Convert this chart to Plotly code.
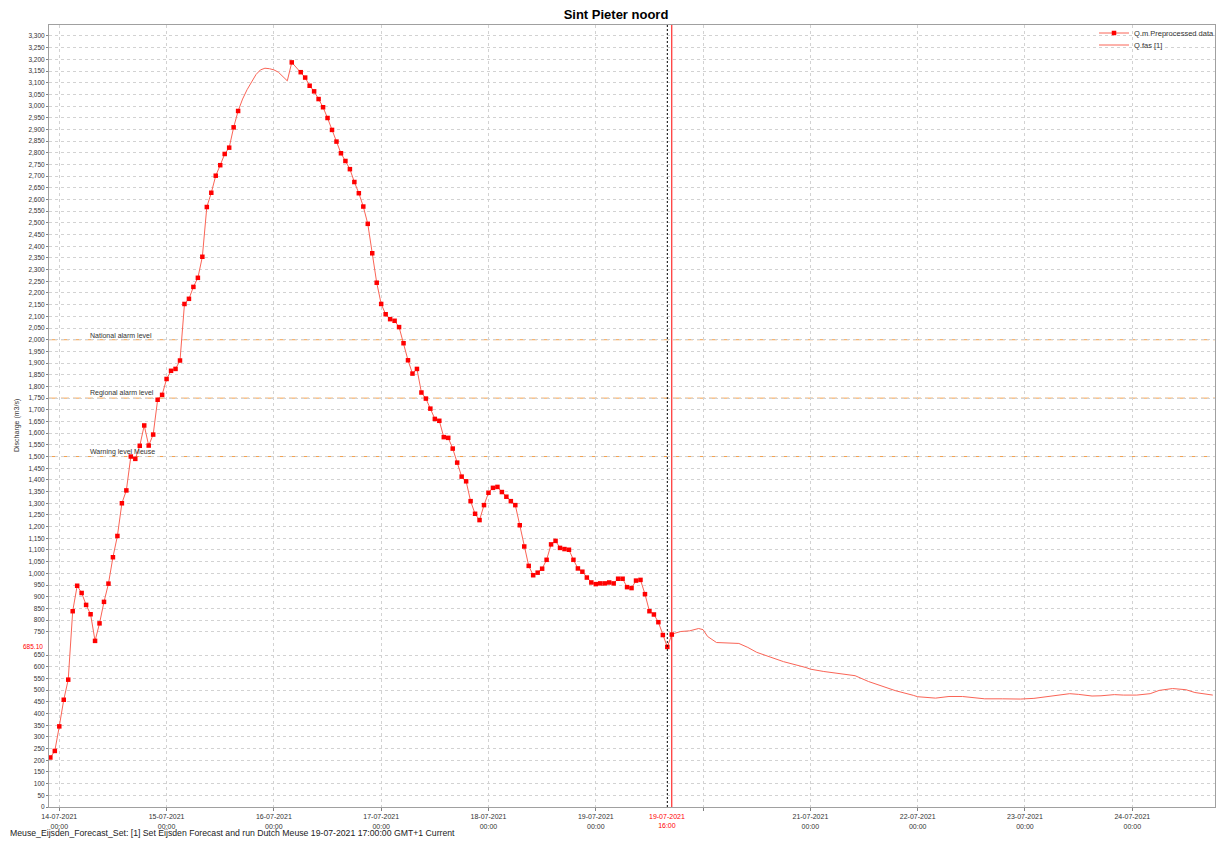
import plotly.graph_objects as go
import pandas as pd

# ---------------- data ----------------
# observed (Q.m Preprocessed data), hourly from 13-07-2021 22:00
obs_rise_start = "2021-07-13 22:00"
obs_rise = [212, 240, 345, 459, 545, 838, 947, 916, 865, 825, 711, 786, 878, 956,
            1069, 1160, 1300, 1355, 1500, 1490, 1546, 1633, 1547, 1594, 1743, 1764,
            1832, 1867, 1875, 1911, 2153, 2175, 2226, 2265, 2355, 2568, 2629, 2702,
            2747, 2795, 2822, 2909, 2979]
obs_peak_time = "2021-07-16 04:00"
obs_peak = 3187
# hourly from 16-07-2021 06:00
obs_fall_start = "2021-07-16 06:00"
obs_fall = [3145, 3122, 3087, 3063, 3030, 2995, 2949, 2898, 2848, 2798, 2765, 2730,
            2675, 2627, 2570, 2496, 2370, 2244, 2153, 2109, 2088, 2081, 2054, 1985,
            1912, 1855, 1875, 1774, 1748, 1705, 1661, 1653, 1583, 1580, 1534, 1474,
            1414, 1394, 1309, 1255, 1228, 1292, 1345, 1366, 1370, 1348, 1328, 1309,
            1292, 1206, 1115, 1032, 992, 1003, 1020, 1058, 1124, 1139, 1109, 1104,
            1101, 1058, 1021, 1007, 982, 961, 954, 957, 957, 961, 957, 977, 977, 941,
            937, 969, 972, 911, 838, 824, 791, 736, 685.10, 738]

# Q.fas [1]: segment where observations are missing (hourly from 15-07-2021 16:00)
fas_gap_start = "2021-07-15 16:00"
fas_gap = [2979, 3030, 3070, 3105, 3135, 3155, 3162, 3160, 3155, 3145, 3128, 3108, 3187]
# Q.fas [1] forecast, hour offsets from 19-07-2021 17:00
fas_fc_start = "2021-07-19 17:00"
fas_fc_hours = [0, 2, 4, 6, 7, 8, 10, 12, 15, 17, 19, 22, 25, 30, 31, 34, 36, 39, 41,
                44, 47, 50, 54, 55, 59, 62, 65, 67, 70, 74, 78, 81, 84, 87, 89, 91, 94,
                96, 99, 101, 104, 107, 109, 112, 115, 117, 121]
fas_fc = [740, 751, 754, 764, 759, 730, 704, 702, 700, 683, 662, 642, 622, 597, 590,
          580, 575, 570, 562, 537, 519, 498, 478, 472, 466, 473, 473, 469, 463, 463,
          462, 465, 473, 482, 485, 482, 475, 476, 481, 479, 479, 485, 499, 507, 502,
          490, 479]

levels = [2000, 1750, 1500]
level_names = ["National alarm level", "Regional alarm level", "Warning level Meuse"]

t0_time = "2021-07-19 16:00"
t0_value = 685.10
forecast_time = "2021-07-19 17:00"

x_days = ["14-07-2021", "15-07-2021", "16-07-2021", "17-07-2021", "18-07-2021",
          "19-07-2021", "20-07-2021", "21-07-2021", "22-07-2021", "23-07-2021",
          "24-07-2021"]
x_hidden = ["20-07-2021"]
y_ticks = [v for v in range(0, 3301, 50) if v != 700]

footer = ("Meuse_Eijsden_Forecast_Set: [1] Set Eijsden Forecast and run Dutch Meuse "
          "19-07-2021 17:00:00 GMT+1 Current")

# ---------------- build ----------------
def hourly(start, n):
    return list(pd.date_range(start, periods=n, freq="h"))

obs_x = hourly(obs_rise_start, len(obs_rise)) + [None] + [pd.Timestamp(obs_peak_time)] \
    + hourly(obs_fall_start, len(obs_fall))
obs_y = obs_rise + [None] + [obs_peak] + obs_fall

fc0 = pd.Timestamp(fas_fc_start)
fas_x = hourly(fas_gap_start, len(fas_gap)) + [None] + \
    [fc0 + pd.Timedelta(hours=h) for h in fas_fc_hours]
fas_y = fas_gap + [None] + fas_fc

FONT = "Liberation Sans"
TXT = "#333333"
LINE_RED = "#fa6456"

# page body has an 8px margin: figure is placed at (8, 8)
W, H = 1216, 836
PL, PR, PT, PB = 49, 1215, 25, 807          # plot area in page pixels
def px_x(p):
    return (p - PL) / (PR - PL)
def px_y(p):
    return (PB - p) / (PB - PT)

fig = go.Figure()
fig.add_trace(go.Scatter(
    x=fas_x, y=fas_y, mode="lines", name="Q.fas [1]", legend="legend2",
    line=dict(color=LINE_RED, width=1)))
fig.add_trace(go.Scatter(
    x=obs_x, y=obs_y, mode="lines+markers", name="Q.m Preprocessed data",
    legend="legend",
    line=dict(color=LINE_RED, width=1),
    marker=dict(symbol="square", size=4.5, color="#ff0000", line=dict(width=0))))

tick_dates = [pd.to_datetime(d, format="%d-%m-%Y") for d in x_days]
tick_text = ["" if d in x_hidden else f"{d}<br>00:00" for d in x_days]

fig.update_xaxes(
    type="date", range=["2021-07-13 21:42", "2021-07-24 18:30"],
    tickmode="array", tickvals=tick_dates, ticktext=tick_text,
    tickfont=dict(family=FONT, size=7, color=TXT),
    showgrid=True, gridcolor="#d2d2d2", griddash="dot", gridwidth=1,
    showline=True, linecolor="#a0a0a0", linewidth=1, mirror=True,
    ticks="outside", ticklen=3, tickcolor="#808080", zeroline=False,
    automargin=False)
fig.update_yaxes(
    range=[0, 3347], tickmode="array", tickvals=y_ticks,
    ticktext=[f"{v:,}" for v in y_ticks],
    tickfont=dict(family=FONT, size=6.5, color=TXT),
    showgrid=True, gridcolor="#d2d2d2", griddash="dot", gridwidth=1,
    showline=True, linecolor="#a0a0a0", linewidth=1, mirror=True,
    ticks="outside", ticklen=2, tickcolor="#808080", zeroline=False,
    automargin=False)

shapes = []
for lv in levels:
    shapes.append(dict(type="line", xref="paper", x0=0, x1=1, yref="y", y0=lv, y1=lv,
                       line=dict(color="#f4a04c", width=1, dash="8px,4px"), layer="between"))
shapes.append(dict(type="line", xref="x", x0=t0_time, x1=t0_time, yref="paper", y0=0, y1=1,
                   line=dict(color="#000000", width=1, dash="2px,2px"), layer="above"))
shapes.append(dict(type="line", xref="x", x0=forecast_time, x1=forecast_time, yref="paper",
                   y0=0, y1=1, line=dict(color="#ff0000", width=1), layer="above"))

annotations = []
for lv, nm in zip(levels, level_names):
    annotations.append(dict(xref="paper", x=px_x(88), y=lv, yref="y", text=nm,
                            xanchor="left", yanchor="bottom", yshift=-1, showarrow=False,
                            font=dict(family=FONT, size=7, color=TXT)))
annotations.append(dict(xref="paper", x=0, xshift=-4, y=t0_value, yref="y",
                        text=f"{t0_value:.2f}", xanchor="right", yanchor="middle",
                        showarrow=False, font=dict(family=FONT, size=6.5, color="#ff0000")))
annotations.append(dict(xref="x", x=t0_time, yref="paper", y=0, yshift=-4,
                        text="19-07-2021<br>16:00", xanchor="center", yanchor="top",
                        showarrow=False, font=dict(family=FONT, size=7, color="#ff0000")))
annotations.append(dict(xref="paper", x=px_x(17), yref="paper", y=px_y(426),
                        text="Discharge (m3/s)", textangle=-90, xanchor="center",
                        yanchor="middle", showarrow=False,
                        font=dict(family=FONT, size=7, color=TXT)))
annotations.append(dict(xref="paper", x=px_x(8), yref="paper", y=px_y(833),
                        text=footer, xanchor="left", yanchor="middle", showarrow=False,
                        font=dict(family=FONT, size=8.7, color="#222222")))

leg_common = dict(xanchor="left", yanchor="middle", bgcolor="rgba(0,0,0,0)",
                  font=dict(family=FONT, size=7.5, color=TXT), itemwidth=30,
                  borderwidth=0)
fig.update_layout(
    width=W, height=H,
    margin=dict(l=PL - 8, r=W + 8 - PR, t=PT - 8, b=H + 8 - PB, autoexpand=False),
    plot_bgcolor="white", paper_bgcolor="white",
    title=dict(text="<b>Sint Pieter noord</b>", x=0.5, xanchor="center",
               y=1 - 1.5 / H, yanchor="top", pad=dict(t=0, b=0, l=0, r=0),
               font=dict(family=FONT, size=13, color="black")),
    legend=dict(x=px_x(1094), y=px_y(33), **leg_common),
    legend2=dict(x=px_x(1094), y=px_y(45), **leg_common),
    shapes=shapes, annotations=annotations, showlegend=True,
)

fig.write_html("out.html")
